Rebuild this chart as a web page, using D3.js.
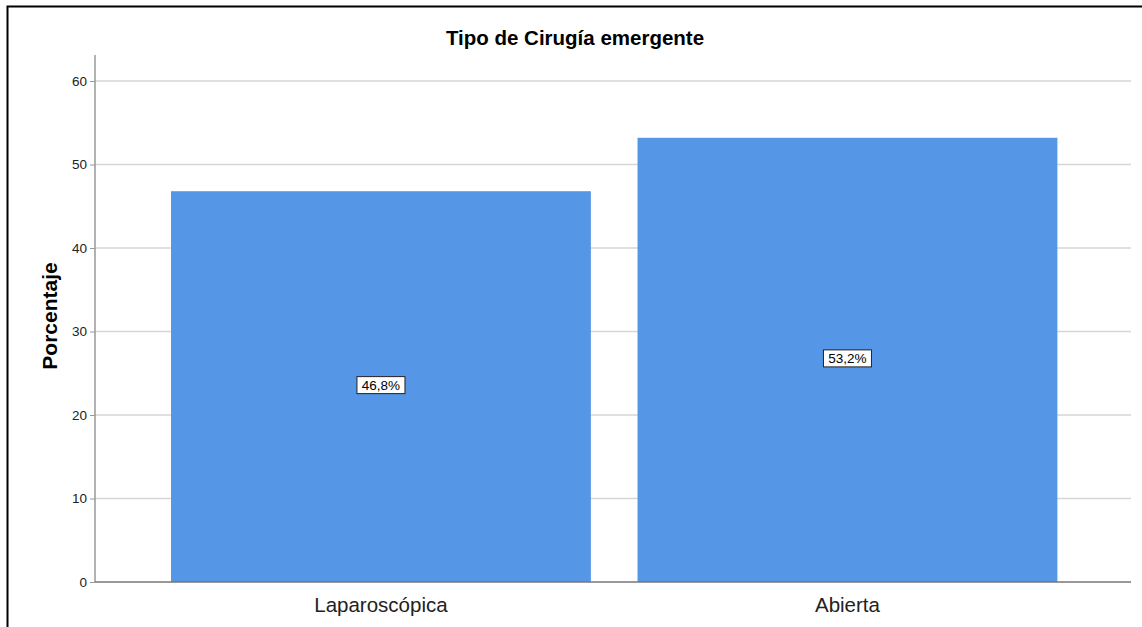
<!DOCTYPE html>
<html>
<head>
<meta charset="utf-8">
<script src="https://cdn.jsdelivr.net/npm/d3@7"></script>
<style>
  body { margin: 0; background: #fff; }
  svg { display: block; font-family: Arial, "Liberation Sans", sans-serif; }
</style>
</head>
<body>
<div id="chart"></div>
<script>
// data
const categories = ['Laparoscópica', 'Abierta'];
const percentages = [46.8, 53.2];
const yTicks = [0, 10, 20, 30, 40, 50, 60];
const title = 'Tipo de Cirugía emergente';
const yLabel = 'Porcentaje';

const width = 1142;
const height = 627;
const plot = { left: 95, right: 1131, top: 55, bottom: 582 };

const svg = d3.select('#chart')
  .append('svg')
  .attr('width', width)
  .attr('height', height);

// outer frame (only top and left edges visible)
svg.append('path')
  .attr('fill', 'none')
  .attr('stroke', '#000')
  .attr('stroke-width', 2)
  .attr('d', `M7.5,${height}V6.5H${width}`);

const x = d3.scaleBand()
  .domain(categories)
  .range([147.7, 1080.7])
  .paddingInner(0.1)
  .paddingOuter(0.05);

const y = d3.scaleLinear()
  .domain([0, 60])
  .range([plot.bottom, 81]);

// gridlines
svg.append('g')
  .attr('class', 'grid')
  .selectAll('line')
  .data(yTicks.filter((d) => d > 0))
  .join('line')
  .attr('x1', plot.left)
  .attr('x2', plot.right)
  .attr('y1', (d) => y(d))
  .attr('y2', (d) => y(d))
  .attr('stroke', '#d6d6d6')
  .attr('stroke-width', 1.5);

// bars
svg.append('g')
  .attr('class', 'bars')
  .selectAll('rect')
  .data(percentages)
  .join('rect')
  .attr('x', (d, i) => x(categories[i]))
  .attr('width', x.bandwidth())
  .attr('y', (d) => y(d))
  .attr('height', (d) => y(0) - y(d))
  .attr('fill', '#5596e6');

// y axis
const yAxis = svg.append('g')
  .attr('transform', `translate(${plot.left},0)`)
  .call(d3.axisLeft(y).tickValues(yTicks).tickSize(5).tickPadding(3));
yAxis.select('.domain').remove();
yAxis.selectAll('.tick line').attr('stroke', '#999');
yAxis.selectAll('.tick text')
  .attr('fill', '#222')
  .style('font-size', '13.5px');

svg.append('line')
  .attr('x1', plot.left)
  .attr('x2', plot.left)
  .attr('y1', plot.top)
  .attr('y2', plot.bottom)
  .attr('stroke', '#999')
  .attr('stroke-width', 1.5);

// baseline
svg.append('line')
  .attr('x1', plot.left)
  .attr('x2', plot.right)
  .attr('y1', y(0))
  .attr('y2', y(0))
  .attr('stroke', '#777')
  .attr('stroke-width', 1.5);

// x labels
svg.append('g')
  .selectAll('text')
  .data(categories)
  .join('text')
  .attr('x', (d) => x(d) + x.bandwidth() / 2)
  .attr('y', 612)
  .attr('text-anchor', 'middle')
  .attr('fill', '#222')
  .style('font-size', '20.5px')
  .text((d) => d);

// value labels
const labels = svg.append('g')
  .attr('class', 'value-labels')
  .selectAll('g')
  .data(percentages)
  .join('g')
  .attr('transform', (d, i) => `translate(${x(categories[i]) + x.bandwidth() / 2},${y(d / 2) - 1.5})`);

labels.append('rect')
  .attr('x', -24)
  .attr('y', -8.5)
  .attr('width', 48)
  .attr('height', 17)
  .attr('fill', '#fff')
  .attr('stroke', '#222')
  .attr('stroke-width', 1);

labels.append('text')
  .attr('text-anchor', 'middle')
  .attr('dy', '0.36em')
  .attr('fill', '#000')
  .style('font-size', '13.5px')
  .text((d) => `${d3.format('.1f')(d).replace('.', ',')}%`);

// title
svg.append('text')
  .attr('x', 575)
  .attr('y', 45)
  .attr('text-anchor', 'middle')
  .style('font-size', '20.5px')
  .style('font-weight', 'bold')
  .text(title);

// y label
svg.append('text')
  .attr('transform', 'translate(57,316) rotate(-90)')
  .attr('text-anchor', 'middle')
  .style('font-size', '21px')
  .style('font-weight', 'bold')
  .text(yLabel);
</script>
</body>
</html>
